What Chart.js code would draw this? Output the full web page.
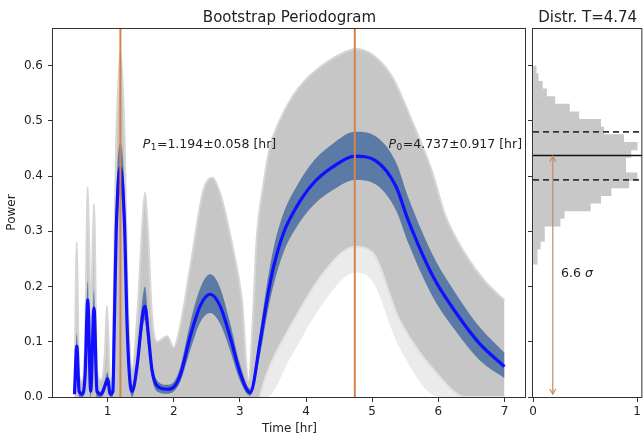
<!DOCTYPE html>
<html>
<head>
<meta charset="utf-8">
<script src="https://cdn.jsdelivr.net/npm/chart.js@4.4.1/dist/chart.umd.min.js"></script>
<style>
  html, body { margin: 0; padding: 0; background: #fff; }
  #wrap { position: relative; width: 644px; height: 441px; overflow: hidden; }
  #main { position: absolute; left: 0; top: 0; }
  #dist { position: absolute; left: 525px; top: 0; }
</style>
</head>
<body>
<div id="wrap">
  <canvas id="main" width="530" height="441"></canvas>
  <canvas id="dist" width="119" height="441"></canvas>
</div>
<script>
// periods found
const P0 = 4.737, P0err = 0.917;
const P1 = 1.194, P1err = 0.058;

// mean bootstrap periodogram and its 1-sigma band
const timeX   = [0.50,0.535,0.57,0.62,0.66,0.70,0.745,0.795,0.84,0.90,0.96,1.00,1.04,1.08,1.10,1.13,1.194,1.26,1.29,1.33,1.37,1.45,1.52,1.565,1.61,1.67,1.75,1.90,2.00,2.10,2.25,2.40,2.55,2.70,2.85,3.00,3.155,3.31,3.41,3.51,3.66,3.86,4.11,4.41,4.74,5.05,5.36,5.54,5.92,6.27,6.62,7.00];
const meanPow = [0.005,0.092,0.01,0.005,0.04,0.176,0.01,0.161,0.01,0.005,0.02,0.033,0.005,0.01,0.12,0.30,0.415,0.30,0.15,0.04,0.01,0.06,0.14,0.164,0.12,0.05,0.02,0.014,0.018,0.04,0.11,0.165,0.186,0.165,0.11,0.045,0.008,0.103,0.176,0.236,0.297,0.345,0.387,0.417,0.436,0.428,0.381,0.321,0.218,0.152,0.097,0.055];
const bandHi  = [0.01,0.115,0.02,0.01,0.06,0.21,0.02,0.195,0.02,0.01,0.03,0.045,0.01,0.02,0.16,0.36,0.46,0.36,0.19,0.06,0.02,0.08,0.17,0.20,0.15,0.065,0.03,0.022,0.027,0.055,0.135,0.197,0.222,0.198,0.135,0.06,0.015,0.125,0.205,0.27,0.333,0.382,0.427,0.459,0.48,0.472,0.425,0.363,0.256,0.186,0.127,0.08];
const bandLo  = [0.0,0.075,0.0,0.0,0.03,0.15,0.0,0.135,0.0,0.0,0.01,0.025,0.0,0.0,0.09,0.25,0.37,0.25,0.12,0.025,0.0,0.045,0.115,0.14,0.095,0.035,0.01,0.006,0.01,0.028,0.085,0.135,0.152,0.133,0.085,0.03,0.002,0.08,0.148,0.203,0.262,0.308,0.347,0.375,0.393,0.385,0.338,0.28,0.18,0.118,0.067,0.034];

// envelope of all bootstrap curves
const cloudX  = [0.50,0.535,0.57,0.62,0.66,0.70,0.745,0.795,0.84,0.90,0.96,0.99,1.04,1.08,1.10,1.13,1.16,1.194,1.23,1.26,1.29,1.33,1.37,1.45,1.52,1.565,1.61,1.67,1.75,1.90,2.00,2.10,2.25,2.45,2.58,2.70,2.90,3.03,3.13,3.20,3.25,3.35,3.45,3.60,3.80,4.00,4.30,4.60,4.74,5.00,5.30,5.60,5.90,6.10,6.40,6.70,7.00];
const cloudHi = [0.01,0.28,0.04,0.03,0.10,0.38,0.15,0.35,0.05,0.03,0.08,0.165,0.03,0.04,0.25,0.46,0.56,0.625,0.56,0.46,0.25,0.10,0.05,0.15,0.30,0.37,0.30,0.15,0.10,0.11,0.09,0.13,0.236,0.375,0.397,0.369,0.266,0.176,0.03,0.15,0.28,0.38,0.45,0.50,0.545,0.575,0.605,0.625,0.63,0.62,0.58,0.50,0.41,0.33,0.26,0.21,0.175];
const tailX   = [3.30,3.41,3.76,4.26,4.74,5.00,5.41,6.02,6.40,7.00];
const cloudLo = [0.0,0.043,0.127,0.224,0.272,0.262,0.14,0.037,0.0,0.0];
const clearLo = [0.0,0.0,0.07,0.17,0.225,0.21,0.09,0.0,0.0,0.0];

const xTicks = [1, 2, 3, 4, 5, 6, 7];
const yTicks = [0, 0.1, 0.2, 0.3, 0.4, 0.5, 0.6];
const yMax = 0.668;

// distribution of peak power at T=4.74
const histPow  = [0.5923,0.5785,0.5647,0.5509,0.5371,0.5233,0.5095,0.4957,0.4819,0.4681,0.4543,0.4405,0.4267,0.4129,0.3991,0.3853,0.3715,0.3577,0.3439,0.3301,0.3163,0.3025,0.2887,0.2749,0.2611,0.2473];
const histFrac = [0.03,0.05,0.09,0.13,0.21,0.35,0.44,0.65,0.68,0.87,1.0,0.94,0.89,0.89,1.0,0.92,0.75,0.65,0.55,0.30,0.26,0.11,0.11,0.07,0.04,0.04];
const distMean = 0.437, distHi = 0.48, distLo = 0.393;
const arrowX = 0.19, sigmaLevel = 6.6;

const pts = (xs, ys) => xs.map((x, i) => ({ x: x, y: ys[i] }));
const FONT = '"DejaVu Sans", sans-serif';
const ORANGE = '#d4844a';

Chart.defaults.font.family = FONT;
Chart.defaults.color = '#222';

// box around plot area
const frame = {
  id: 'frame',
  afterDatasetsDraw(chart) {
    const a = chart.chartArea, c = chart.ctx;
    c.save();
    c.strokeStyle = '#333';
    c.lineWidth = 1;
    c.strokeRect(a.left - 0.5, a.top + 0.5, a.right - a.left, a.bottom - a.top);
    c.restore();
  }
};

const panelTitle = {
  id: 'panelTitle',
  afterDraw(chart, args, opts) {
    const a = chart.chartArea, c = chart.ctx;
    c.save();
    c.font = '15px ' + FONT;
    c.fillStyle = '#222';
    c.textAlign = 'center';
    c.textBaseline = 'alphabetic';
    c.fillText(opts.text, (a.left + a.right) / 2, 21.5);
    c.restore();
  }
};

function periodLabel(c, x, y, sub, rest, align) {
  const big = '12.5px ' + FONT, it = 'italic 12.5px ' + FONT, small = '9px ' + FONT;
  c.font = it; const wP = c.measureText('P').width;
  c.font = small; const wS = c.measureText(sub).width;
  c.font = big; const wR = c.measureText(rest).width;
  const x0 = align === 'right' ? x - (wP + wS + wR) : x;
  c.textAlign = 'left';
  c.textBaseline = 'middle';
  c.font = it; c.fillText('P', x0, y);
  c.font = small; c.fillText(sub, x0 + wP + 0.5, y + 3.5);
  c.font = big; c.fillText(rest, x0 + wP + wS + 1, y);
}

const periodText = {
  id: 'periodText',
  afterDatasetsDraw(chart) {
    const c = chart.ctx, xs = chart.scales.x, ys = chart.scales.y;
    c.save();
    c.fillStyle = '#222';
    periodLabel(c, xs.getPixelForValue(1.53), ys.getPixelForValue(0.457), '1',
      '=' + P1.toFixed(3) + '\u00b1' + P1err.toFixed(3) + ' [hr]', 'left');
    periodLabel(c, xs.getPixelForValue(7.25), ys.getPixelForValue(0.457), '0',
      '=' + P0.toFixed(3) + '\u00b1' + P0err.toFixed(3) + ' [hr]', 'right');
    c.restore();
  }
};

const sigmaArrow = {
  id: 'sigmaArrow',
  afterDatasetsDraw(chart) {
    const c = chart.ctx, xs = chart.scales.x, ys = chart.scales.y;
    const px = xs.getPixelForValue(arrowX);
    const top = ys.getPixelForValue(distMean) + 1;
    const bot = ys.getPixelForValue(0) - 3;
    c.save();
    c.strokeStyle = '#c98a5c';
    c.lineWidth = 1.2;
    c.beginPath();
    c.moveTo(px - 3, top + 5); c.lineTo(px, top); c.lineTo(px + 3, top + 5);
    c.moveTo(px - 3, bot - 5); c.lineTo(px, bot); c.lineTo(px + 3, bot - 5);
    c.stroke();
    c.fillStyle = '#222';
    c.textBaseline = 'middle';
    c.textAlign = 'left';
    const tx = xs.getPixelForValue(0.27), ty = ys.getPixelForValue(0.223);
    c.font = '12.5px ' + FONT;
    const s = sigmaLevel.toFixed(1) + ' ';
    c.fillText(s, tx, ty);
    const w = c.measureText(s).width;
    c.font = 'italic 12.5px ' + FONT;
    c.fillText('\u03c3', tx + w, ty);
    c.restore();
  }
};

const tickGrid = { display: true, offset: false, drawOnChartArea: false, drawTicks: true, tickLength: 5, color: '#333', tickColor: '#333' };

new Chart(document.getElementById('main'), {
  type: 'line',
  data: {
    datasets: [
      { data: [{ x: P1, y: 0 }, { x: P1, y: yMax }], borderColor: ORANGE, borderWidth: 2, order: 0 },
      { data: [{ x: P0, y: 0 }, { x: P0, y: yMax }], borderColor: ORANGE, borderWidth: 2, order: 0 },
      { data: pts(timeX, meanPow), borderColor: '#1010ff', borderWidth: 3.2, cubicInterpolationMode: 'monotone', order: 1 },
      { data: pts(timeX, bandHi), borderColor: 'rgba(0,0,0,0)', borderWidth: 0, backgroundColor: '#5b7aa6', fill: '+1', cubicInterpolationMode: 'monotone', order: 2 },
      { data: pts(timeX, bandLo), borderColor: 'rgba(0,0,0,0)', borderWidth: 0, cubicInterpolationMode: 'monotone', order: 3 },
      { data: pts(tailX, clearLo), borderColor: 'rgba(0,0,0,0)', borderWidth: 0, backgroundColor: '#ffffff', fill: 'origin', cubicInterpolationMode: 'monotone', order: 4 },
      { data: pts(tailX, cloudLo), borderColor: '#e2e2e2', borderWidth: 2, backgroundColor: '#ebebeb', fill: 'origin', cubicInterpolationMode: 'monotone', order: 5 },
      { data: pts(cloudX, cloudHi), borderColor: '#d6d6d6', borderWidth: 2, backgroundColor: '#c6c6c6', fill: 'origin', cubicInterpolationMode: 'monotone', order: 6 }
    ]
  },
  options: {
    responsive: false,
    animation: false,
    layout: { padding: { top: 28, right: 4, left: 0, bottom: 0 } },
    elements: { point: { radius: 0 } },
    plugins: {
      legend: { display: false },
      tooltip: { enabled: false },
      panelTitle: { text: 'Bootstrap Periodogram' }
    },
    scales: {
      x: {
        type: 'linear', min: 0.175, max: 7.325,
        afterBuildTicks: s => { s.ticks = xTicks.map(v => ({ value: v })); },
        afterFit: s => { s.height = 44; },
        ticks: { font: { size: 12 }, padding: 3, maxRotation: 0, callback: v => String(v) },
        grid: tickGrid,
        border: { display: false },
        title: { display: true, text: 'Time [hr]', font: { size: 12 }, padding: { top: 0, bottom: 4.5 } }
      },
      y: {
        type: 'linear', min: 0, max: yMax,
        afterBuildTicks: s => { s.ticks = yTicks.map(v => ({ value: v })); },
        afterFit: s => { s.width = 53; },
        ticks: { font: { size: 12 }, padding: 5, callback: v => v.toFixed(1) },
        grid: tickGrid,
        border: { display: false },
        title: { display: true, text: 'Power', font: { size: 12 }, padding: { top: 5, bottom: 0 } }
      }
    }
  },
  plugins: [frame, panelTitle, periodText]
});

new Chart(document.getElementById('dist'), {
  type: 'bar',
  data: {
    datasets: [
      { type: 'bar', data: histFrac.map((f, i) => ({ x: f, y: histPow[i] })), backgroundColor: '#c8c8c8', borderWidth: 0, barPercentage: 1, categoryPercentage: 1, order: 5 },
      { type: 'line', data: [{ x: 0, y: distMean }, { x: 1.05, y: distMean }], borderColor: '#111', borderWidth: 1.5, pointRadius: 0, order: 1 },
      { type: 'line', data: [{ x: 0, y: distHi }, { x: 1.05, y: distHi }], borderColor: '#333', borderWidth: 1.8, borderDash: [6, 4], pointRadius: 0, order: 1 },
      { type: 'line', data: [{ x: 0, y: distLo }, { x: 1.05, y: distLo }], borderColor: '#333', borderWidth: 1.8, borderDash: [6, 4], pointRadius: 0, order: 1 },
      { type: 'line', data: [{ x: arrowX, y: distMean }, { x: arrowX, y: 0.005 }], borderColor: '#c98a5c', borderWidth: 1.2, pointRadius: 0, order: 0 }
    ]
  },
  options: {
    indexAxis: 'y',
    responsive: false,
    animation: false,
    layout: { padding: { top: 28, right: 1, left: 0, bottom: 0 } },
    plugins: {
      legend: { display: false },
      tooltip: { enabled: false },
      panelTitle: { text: 'Distr. T=4.74' }
    },
    scales: {
      x: {
        type: 'linear', min: 0, max: 1.05, offset: false,
        afterBuildTicks: s => { s.ticks = [0, 1].map(v => ({ value: v })); },
        afterFit: s => { s.height = 44; },
        ticks: { font: { size: 12 }, padding: 3, maxRotation: 0, callback: v => String(v) },
        grid: tickGrid,
        border: { display: false }
      },
      y: {
        type: 'linear', min: 0, max: yMax, offset: false,
        afterBuildTicks: s => { s.ticks = yTicks.map(v => ({ value: v })); },
        afterFit: s => { s.width = 8; },
        ticks: { display: false },
        grid: tickGrid,
        border: { display: false }
      }
    }
  },
  plugins: [frame, panelTitle, sigmaArrow]
});
</script>
</body>
</html>
